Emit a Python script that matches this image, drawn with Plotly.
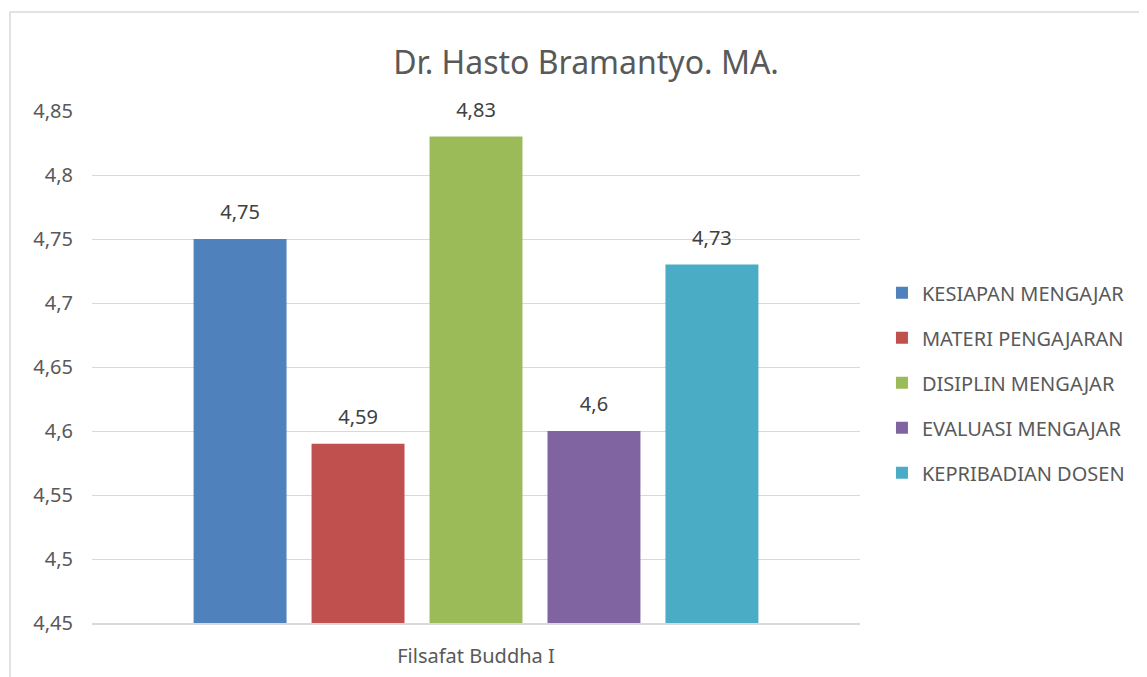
import plotly.graph_objects as go

CATEGORY = ["Filsafat Buddha I"]
SERIES = [
    "KESIAPAN MENGAJAR",
    "MATERI PENGAJARAN",
    "DISIPLIN MENGAJAR",
    "EVALUASI MENGAJAR",
    "KEPRIBADIAN DOSEN",
]
VALUES = [4.75, 4.59, 4.83, 4.60, 4.73]
COLORS = ["#4F81BD", "#C0504D", "#9BBB59", "#8064A2", "#4BACC6"]
Y_TICKS = [4.45, 4.5, 4.55, 4.6, 4.65, 4.7, 4.75, 4.8, 4.85]

FONT = "Noto Sans"
TEXT = "#595959"

fig = go.Figure()
for name, value, color in zip(SERIES, VALUES, COLORS):
    fig.add_trace(go.Bar(
        x=CATEGORY,
        y=[value],
        name=name,
        marker={"color": color, "line": {"width": 0}},
        offsetgroup=name,
        legendgroup=name,
    ))
    # value label, lifted above the bar by an invisible marker
    fig.add_trace(go.Scatter(
        x=CATEGORY,
        y=[value],
        mode="markers+text",
        marker={"size": 22, "opacity": 0},
        text=[f"{value:g}".replace(".", ",")],
        textposition="top center",
        textfont={"family": FONT, "size": 20, "color": "#404040"},
        offsetgroup=name,
        legendgroup=name,
        showlegend=False,
        hoverinfo="skip",
        cliponaxis=False,
    ))

fig.update_layout(
    width=1147,
    height=677,
    margin={"l": 84, "r": 295, "t": 103, "b": 62},
    paper_bgcolor="white",
    plot_bgcolor="white",
    separators=",.",
    barmode="group",
    scattermode="group",
    bargap=0.232,
    bargroupgap=0.212,
    font={"family": FONT, "color": TEXT},
    title={
        "text": "Dr. Hasto Bramantyo. MA.",
        "x": 0.504,
        "xanchor": "center",
        "y": 1 - 55 / 677,
        "yanchor": "middle",
        "font": {"family": FONT, "size": 32, "color": TEXT},
    },
    legend={
        "x": 1.0286,
        "xanchor": "left",
        "y": 0.469,
        "yanchor": "middle",
        "font": {"family": FONT, "size": 20, "color": TEXT},
        "tracegroupgap": 16,
        "itemwidth": 30,
    },
    showlegend=True,
    shapes=[{
        "type": "rect",
        "xref": "paper",
        "yref": "paper",
        "x0": (2 - 84) / 768,
        "x1": 1.6,
        "y0": -0.3,
        "y1": (615 - 4) / 512,
        "line": {"color": "#D9D9D9", "width": 1.5},
        "layer": "below",
    }],
)
fig.update_yaxes(
    range=[4.45, 4.85],
    tickvals=Y_TICKS,
    showgrid=True,
    gridcolor="#D9D9D9",
    gridwidth=1,
    zeroline=False,
    showline=False,
    ticks="",
    ticklabelstandoff=18,
    tickfont={"family": FONT, "size": 20, "color": TEXT},
)
fig.update_xaxes(
    showline=True,
    linecolor="#D9D9D9",
    linewidth=1.5,
    ticks="",
    ticklabelstandoff=14,
    tickfont={"family": FONT, "size": 20, "color": TEXT},
)

fig.write_html("out.html")
